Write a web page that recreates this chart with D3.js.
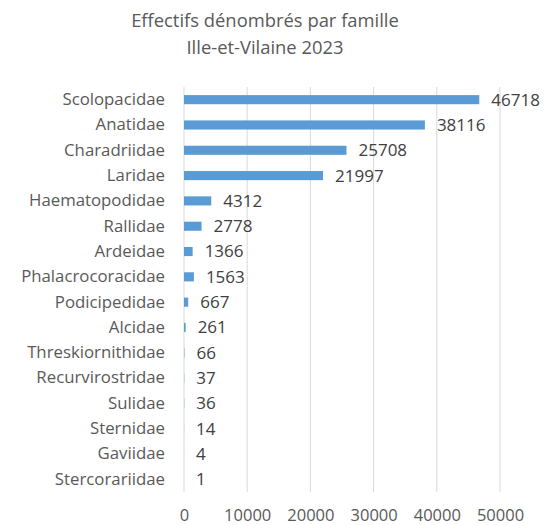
<!DOCTYPE html>
<html lang="fr">
<head>
  <meta charset="UTF-8">
  <title>Effectifs dénombrés par famille</title>
  <script src="https://cdn.jsdelivr.net/npm/d3@7/dist/d3.min.js"></script>
  <style>
    html, body { margin: 0; background: #fff; }
    svg text { font-family: 'Open Sans', sans-serif; fill: #595959; }
  </style>
</head>
<body>
  <script>
    // données
    const families = ['Scolopacidae', 'Anatidae', 'Charadriidae', 'Laridae', 'Haematopodidae', 'Rallidae',
      'Ardeidae', 'Phalacrocoracidae', 'Podicipedidae', 'Alcidae', 'Threskiornithidae', 'Recurvirostridae',
      'Sulidae', 'Sternidae', 'Gaviidae', 'Stercorariidae']
    const counts = [46718, 38116, 25708, 21997, 4312, 2778, 1366, 1563, 667, 261, 66, 37, 36, 14, 4, 1]
    const xTicks = [0, 10000, 20000, 30000, 40000, 50000]
    const titleLines = ['Effectifs dénombrés par famille', 'Ille-et-Vilaine 2023']

    const width = 545
    const height = 525
    const margin = { left: 184, right: 45, top: 87, bottom: 33 }

    const svg = d3.select('body').append('svg')
      .attr('width', width)
      .attr('height', height)

    // titre
    svg.append('g').selectAll('text')
      .data(titleLines)
      .join('text')
      .attr('x', 265)
      .attr('y', (d, i) => 27 + i * 27)
      .attr('text-anchor', 'middle')
      .attr('font-size', 18.4)
      .text(d => d)

    const x = d3.scaleLinear()
      .domain([0, 50000])
      .range([margin.left, 500])

    const y = d3.scaleBand()
      .domain(families)
      .range([margin.top, height - margin.bottom])
      .paddingInner(0.64)
      .paddingOuter(0.32)

    // grille
    svg.append('g').selectAll('line')
      .data(xTicks)
      .join('line')
      .attr('x1', d => x(d)).attr('x2', d => x(d))
      .attr('y1', margin.top).attr('y2', height - margin.bottom)
      .attr('stroke', '#d9d9d9')
      .attr('stroke-width', 1)

    // axe x
    const gx = svg.append('g')
      .attr('transform', `translate(0, ${height - margin.bottom})`)
      .call(d3.axisBottom(x).tickValues(xTicks).tickFormat(d3.format('d')).tickSize(0).tickPadding(17))
    gx.select('.domain').remove()
    gx.selectAll('text').attr('font-size', 16.5).attr('font-family', null).attr('fill', '#595959')

    // axe y
    const gy = svg.append('g')
      .attr('transform', `translate(${margin.left}, 0)`)
      .call(d3.axisLeft(y).tickSize(0).tickPadding(19))
    gy.select('.domain').remove()
    gy.selectAll('text').attr('font-size', 16.8).attr('font-family', null).attr('fill', '#595959')

    // barres
    svg.append('g').selectAll('rect')
      .data(counts)
      .join('rect')
      .attr('x', x(0))
      .attr('y', (d, i) => y(families[i]))
      .attr('width', d => x(d) - x(0))
      .attr('height', y.bandwidth())
      .attr('fill', '#5b9bd5')

    // étiquettes
    svg.append('g').selectAll('text')
      .data(counts)
      .join('text')
      .attr('x', d => x(d) + 12)
      .attr('y', (d, i) => y(families[i]) + y.bandwidth() / 2)
      .attr('dy', '0.35em')
      .attr('font-size', 17)
      .style('fill', '#404040')
      .text(d => d)
  </script>
</body>
</html>
